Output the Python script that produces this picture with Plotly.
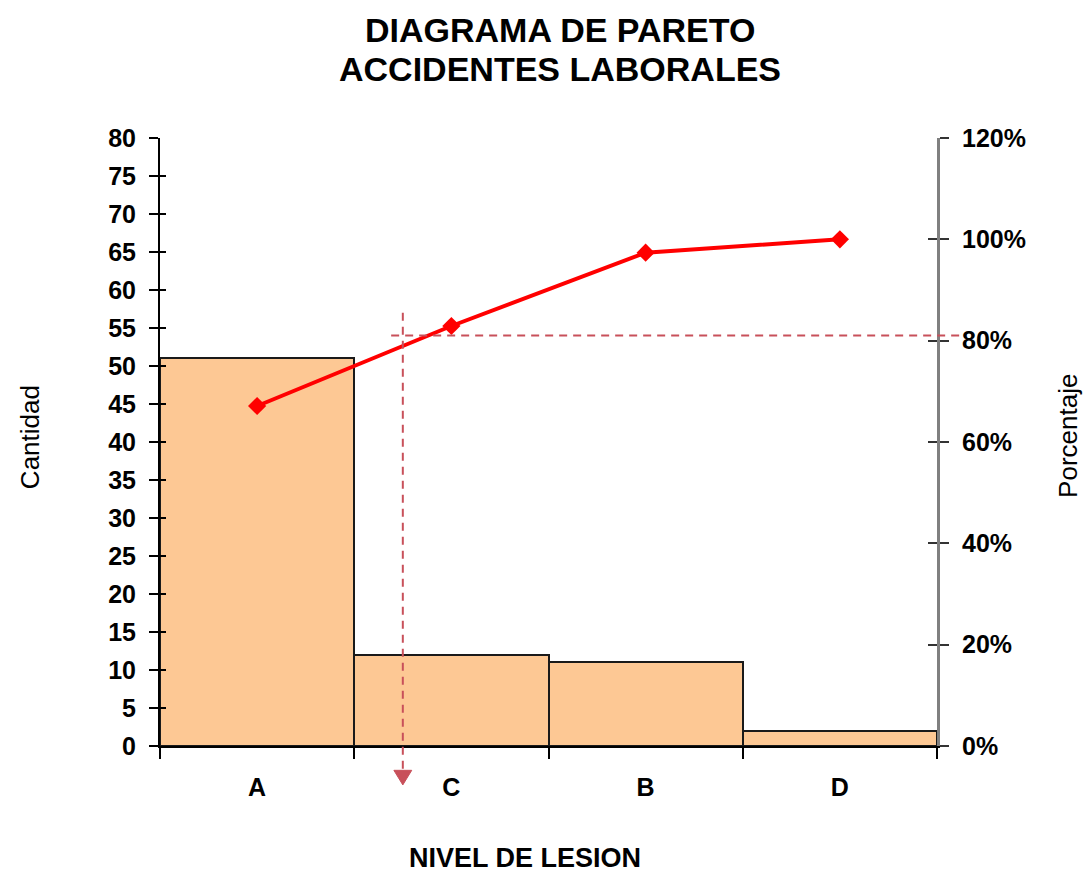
import plotly.graph_objects as go

# Pareto data: injury level vs. number of workplace accidents (sorted descending)
categories = ["A", "C", "B", "D"]
counts = [51, 12, 11, 2]

# Cumulative share of accidents per category
total = sum(counts)
cumulative = []
running = 0
for c in counts:
    running += c
    cumulative.append(running / total)

left_ticks = list(range(0, 85, 5))
right_ticks = [0, 0.2, 0.4, 0.6, 0.8, 1.0, 1.2]
right_ticktext = ["0%", "20%", "40%", "60%", "80%", "100%", "120%"]

# 80/20 guide: cut level on the percentage axis and its position on the category axis
PARETO_CUT = 0.81
CUT_POS = 0.75

x_pos = list(range(len(categories)))
X_RANGE = [-0.5, len(categories) - 0.5]
Y_RANGE = [0, 80]
Y2_RANGE = [0, 1.2]

FONT = "Liberation Sans, Arial, sans-serif"
GUIDE = "#C8505A"

fig = go.Figure()

fig.add_trace(go.Bar(
    x=x_pos, y=counts, width=1,
    marker=dict(color="#FDC894", line=dict(color="#1a1a1a", width=2)),
    yaxis="y", showlegend=False, hoverinfo="skip",
))

fig.add_trace(go.Scatter(
    x=x_pos, y=cumulative, mode="lines+markers",
    line=dict(color="#FF0000", width=4),
    marker=dict(symbol="diamond", size=14, color="#FF0000"),
    yaxis="y2", showlegend=False, cliponaxis=False,
))


def xdom(v):
    return (v - X_RANGE[0]) / (X_RANGE[1] - X_RANGE[0])


cut_x = xdom(CUT_POS)
head_half = 0.0115   # half width of the arrow head (plot-width fraction)
head_top = -0.040    # arrow head base, below the category axis
head_tip = -0.064

shapes = [
    # horizontal cut line at the cumulative threshold
    dict(type="line", xref="x domain", yref="y domain",
         x0=xdom(0.69), x1=1.032,
         y0=PARETO_CUT / Y2_RANGE[1], y1=PARETO_CUT / Y2_RANGE[1],
         line=dict(color=GUIDE, width=2, dash="8px,6px")),
    # vertical drop line towards the category axis
    dict(type="line", xref="x domain", yref="y domain",
         x0=cut_x, x1=cut_x,
         y0=57 / Y_RANGE[1], y1=head_top,
         line=dict(color=GUIDE, width=2, dash="8px,6px")),
    # arrow head
    dict(type="path", xref="paper", yref="paper",
         path=f"M {cut_x - head_half},{head_top} L {cut_x + head_half},{head_top} "
              f"L {cut_x},{head_tip} Z",
         fillcolor=GUIDE, line=dict(color=GUIDE, width=1)),
]

tick_font = dict(family=FONT, size=25, color="#000000", weight="bold")
title_font = dict(family=FONT, size=34, color="#000000", weight="bold")

fig.update_layout(
    width=1088, height=872,
    margin=dict(l=160, r=151, t=138, b=126),
    paper_bgcolor="white", plot_bgcolor="white",
    bargap=0,
    xaxis=dict(
        range=X_RANGE, tickmode="array", tickvals=x_pos, ticktext=categories,
        ticks="outside", ticklen=18, tickcolor="rgba(0,0,0,0)",
        tickfont=tick_font,
        showline=True, linecolor="#000000", linewidth=2,
        showgrid=False, zeroline=False, fixedrange=True,
        minor=dict(tickmode="array", tickvals=[-0.5, 0.5, 1.5, 2.5, 3.5],
                   ticks="outside", ticklen=11, tickwidth=2, tickcolor="#000000",
                   showgrid=False),
    ),
    yaxis=dict(
        range=Y_RANGE, tickmode="array", tickvals=left_ticks,
        ticks="outside", ticklen=9, tickwidth=2, tickcolor="#000000",
        tickfont=tick_font, ticklabelstandoff=8,
        showline=True, linecolor="#000000", linewidth=2,
        showgrid=False, zeroline=False,
    ),
    yaxis3=dict(
        range=Y_RANGE, tickmode="array", tickvals=left_ticks, overlaying="y",
        side="left", anchor="x",
        ticks="inside", ticklen=6, tickwidth=2, tickcolor="#000000",
        showticklabels=False, showline=False, showgrid=False, zeroline=False,
    ),
    yaxis2=dict(
        range=Y2_RANGE, tickmode="array", tickvals=right_ticks, ticktext=right_ticktext,
        overlaying="y", side="right", anchor="x",
        ticks="outside", ticklen=9, tickwidth=2, tickcolor="#333333",
        tickfont=tick_font, ticklabelstandoff=8,
        showline=True, linecolor="#808080", linewidth=3,
        showgrid=False, zeroline=False,
    ),
    yaxis4=dict(
        range=Y2_RANGE, tickmode="array", tickvals=right_ticks, overlaying="y",
        side="right", anchor="x",
        ticks="inside", ticklen=9, tickwidth=2, tickcolor="#333333",
        showticklabels=False, showline=False, showgrid=False, zeroline=False,
    ),
    shapes=shapes,
    annotations=[
        dict(text="DIAGRAMA DE PARETO", xref="paper", yref="paper",
             x=(560 - 160) / 777, y=(746 - 30) / 608, showarrow=False,
             xanchor="center", yanchor="middle", font=title_font),
        dict(text="ACCIDENTES LABORALES", xref="paper", yref="paper",
             x=(560 - 160) / 777, y=(746 - 69) / 608, showarrow=False,
             xanchor="center", yanchor="middle", font=title_font),
        dict(text="Cantidad", xref="paper", yref="paper", x=0, xshift=-130,
             y=0.508, textangle=-90, showarrow=False,
             xanchor="center", yanchor="middle",
             font=dict(family=FONT, size=26, color="#000000")),
        dict(text="Porcentaje", xref="paper", yref="paper", x=1, xshift=131,
             y=0.51, textangle=-90, showarrow=False,
             xanchor="center", yanchor="middle",
             font=dict(family=FONT, size=26, color="#000000")),
        dict(text="NIVEL DE LESION", xref="paper", yref="paper",
             x=(525 - 160) / 777, y=(746 - 858) / 608, showarrow=False,
             xanchor="center", yanchor="middle",
             font=dict(family=FONT, size=27, color="#000000", weight="bold")),
    ],
)

# empty traces so the helper tick axes are drawn
fig.add_trace(go.Scatter(x=[None], y=[None], yaxis="y3", showlegend=False))
fig.add_trace(go.Scatter(x=[None], y=[None], yaxis="y4", showlegend=False))

fig.write_html("out.html")
